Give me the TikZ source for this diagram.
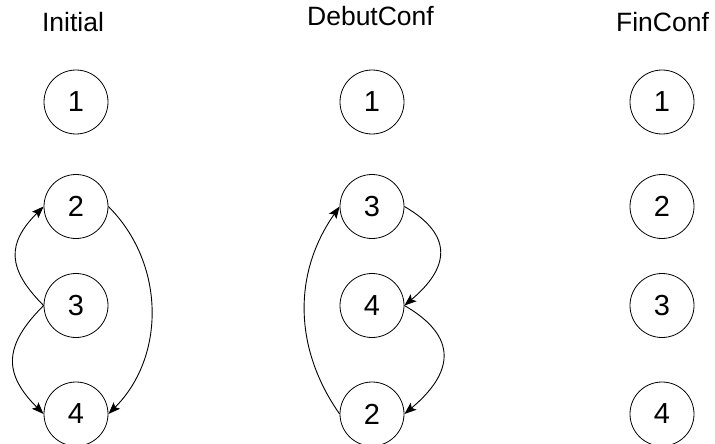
\documentclass[tikz,border=0pt]{standalone}
\usepackage{fontspec}
\setmainfont{Liberation Sans}
\usetikzlibrary{arrows.meta}
\begin{document}
\begin{tikzpicture}[x=1pt,y=-1pt,
  state/.style={draw=black, line width=0.8pt, circle, minimum size=64pt, inner sep=0pt, font=\fontsize{29}{33}\selectfont},
  title/.style={anchor=base, inner sep=0pt, font=\fontsize{26.5}{30}\selectfont},
  link/.style={draw=black, line width=0.9pt, -{Stealth[length=12pt,width=9pt,inset=2.5pt]}}]
\useasboundingbox (0,0) rectangle (715,444);
% titles
\node[title] (t1) at (73,31.7) {Initial};
\node[title] (t2) at (370.5,25.7) {DebutConf};
\node[title] (t3) at (662.5,31.7) {FinConf};
% column 1
\node[state] (a1) at (76,102) {1};
\node[state] (a2) at (76,206.5) {2};
\node[state] (a3) at (76,305.5) {3};
\node[state] (a4) at (76,414) {4};
% column 2
\node[state] (b1) at (372,102) {1};
\node[state] (b3) at (372,206.5) {3};
\node[state] (b4) at (372,305.5) {4};
\node[state] (b2) at (372,414) {2};
% column 3
\node[state] (c1) at (662,102) {1};
\node[state] (c2) at (662,206.5) {2};
\node[state] (c3) at (662,305.5) {3};
\node[state] (c4) at (662,414) {4};
% edges column 1
\draw[link] (a3.west) to[out=135,in=225,looseness=1.35] (a2.west);
\draw[link] (a3.west) to[out=225,in=135,looseness=1.35] (a4.west);
\draw[link] (a2.east) to[out=-45,in=45] (a4.east);
% edges column 2
\draw[link] (b2.west) to[out=125,in=235] (b3.west);
\draw[link] (b3.east) to[out=-30,in=40,looseness=1.5] (b4.east);
\draw[link] (b4.east) to[out=-30,in=40,looseness=1.5] (b2.east);
\end{tikzpicture}
\end{document}
